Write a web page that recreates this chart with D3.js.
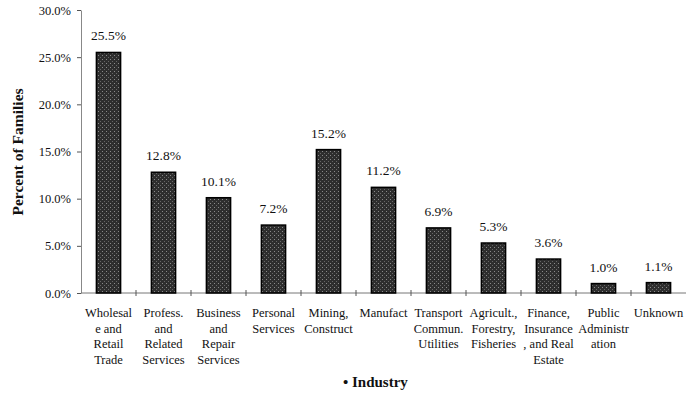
<!DOCTYPE html>
<html>
<head>
<meta charset="utf-8">
<script src="https://cdn.jsdelivr.net/npm/d3@7"></script>
<style>
  body { margin: 0; background: #fff; }
  text { font-family: "Liberation Serif", "Times New Roman", serif; fill: #111; }
</style>
</head>
<body>
<div id="chart"></div>
<script>
// data
var industries = [
  ["Wholesal", "e and", "Retail", "Trade"],
  ["Profess.", "and", "Related", "Services"],
  ["Business", "and", "Repair", "Services"],
  ["Personal", "Services"],
  ["Mining,", "Construct"],
  ["Manufact"],
  ["Transport", "Commun.", "Utilities"],
  ["Agricult.,", "Forestry,", "Fisheries"],
  ["Finance,", "Insurance", ", and Real", "Estate"],
  ["Public", "Administr", "ation"],
  ["Unknown"]
];
var percents = [25.5, 12.8, 10.1, 7.2, 15.2, 11.2, 6.9, 5.3, 3.6, 1.0, 1.1];
var yTicks = [0, 5, 10, 15, 20, 25, 30];

var w = 686, h = 402;
var margin = {top: 10, right: 0, bottom: 109, left: 81};
var innerW = w - margin.left - margin.right,
    innerH = h - margin.top - margin.bottom;

var svg = d3.select('#chart').append('svg')
    .attr('width', w)
    .attr('height', h);

// speckled fill like the scanned bars
var pat = svg.append('defs').append('pattern')
    .attr('id', 'speck')
    .attr('width', 4).attr('height', 4)
    .attr('patternUnits', 'userSpaceOnUse');
pat.append('rect').attr('width', 4).attr('height', 4).attr('fill', '#2e2e2e');
pat.append('rect').attr('x', 1).attr('y', 1).attr('width', 1).attr('height', 1).attr('fill', '#8a8a8a');
pat.append('rect').attr('x', 3).attr('y', 3).attr('width', 1).attr('height', 1).attr('fill', '#666');

var g = svg.append('g')
    .attr('transform', 'translate(' + [margin.left, margin.top] + ')');

var x = d3.scaleBand()
    .domain(d3.range(industries.length))
    .range([0, innerW])
    .paddingInner(0.56)
    .paddingOuter(0.28);
var step = innerW / industries.length;

var y = d3.scaleLinear()
    .domain([0, 30])
    .range([innerH, 0]);

// y axis
var yAxis = d3.axisLeft(y)
    .tickValues(yTicks)
    .tickSize(4)
    .tickSizeOuter(0)
    .tickPadding(6)
    .tickFormat(function(d) { return d3.format('.1f')(d) + '%'; });
var ya = g.append('g').attr('class', 'y axis').call(yAxis);
ya.select('.domain').attr('stroke', '#888');
ya.selectAll('.tick line').attr('stroke', '#555');
ya.selectAll('.tick text')
    .style('font-size', '12.5px')
    .attr('fill', '#222');

// x axis line with separator ticks
g.append('line')
    .attr('x1', 0).attr('x2', innerW)
    .attr('y1', innerH).attr('y2', innerH)
    .attr('stroke', '#777');
g.selectAll('line.sep')
    .data(d3.range(1, industries.length))
    .enter().append('line')
    .attr('class', 'sep')
    .attr('x1', function(d) { return d * step; })
    .attr('x2', function(d) { return d * step; })
    .attr('y1', innerH - 3)
    .attr('y2', innerH + 3)
    .attr('stroke', '#555');

// bars
g.selectAll('rect.bar')
    .data(percents)
    .enter().append('rect')
    .attr('class', 'bar')
    .attr('x', function(d, i) { return x(i); })
    .attr('y', function(d) { return y(d); })
    .attr('width', x.bandwidth())
    .attr('height', function(d) { return innerH - y(d); })
    .attr('fill', 'url(#speck)')
    .attr('stroke', '#000')
    .attr('stroke-width', 1.5);

// value labels
g.selectAll('text.val')
    .data(percents)
    .enter().append('text')
    .attr('class', 'val')
    .attr('x', function(d, i) { return x(i) + x.bandwidth() / 2; })
    .attr('y', function(d) { return y(d) - 12; })
    .attr('text-anchor', 'middle')
    .style('font-size', '13.5px')
    .text(function(d) { return d.toFixed(1) + '%'; });

// category labels
var cat = g.selectAll('text.cat')
    .data(industries)
    .enter().append('text')
    .attr('class', 'cat')
    .attr('text-anchor', 'middle')
    .style('font-size', '12.5px')
    .attr('transform', function(d, i) {
        return 'translate(' + [x(i) + x.bandwidth() / 2, innerH + 24] + ')';
    });
cat.selectAll('tspan')
    .data(function(d) { return d; })
    .enter().append('tspan')
    .attr('x', 0)
    .attr('y', function(d, i) { return i * 15.5; })
    .text(function(d) { return d; });

// axis titles
svg.append('text')
    .attr('transform', 'translate(23,152) rotate(-90)')
    .attr('text-anchor', 'middle')
    .style('font-size', '15.5px')
    .style('font-weight', 'bold')
    .text('Percent of Families');

svg.append('text')
    .attr('x', 343)
    .attr('y', 387)
    .style('font-size', '15px')
    .style('font-weight', 'bold')
    .text('• Industry');
</script>
</body>
</html>
